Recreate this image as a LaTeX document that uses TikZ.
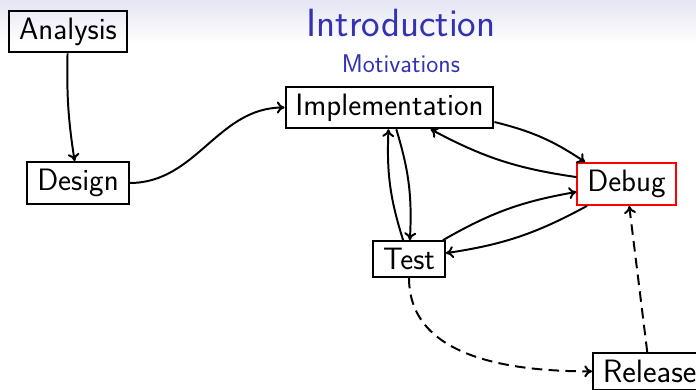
\documentclass[tikz,border=0pt]{standalone}
\usepackage{fontspec}
\usetikzlibrary{positioning, arrows.meta}
\definecolor{structure}{rgb}{0.2,0.2,0.7}
\definecolor{headshade}{RGB}{229,229,244}
\begin{document}
\begin{tikzpicture}[x=0.025cm, y=0.025cm,
        font=\sffamily\fontsize{22}{26}\selectfont,
        >={To[length=5.5pt, width=8.5pt]},
        stage/.style={draw, line width=1.4pt, inner xsep=7pt, inner ysep=5pt},
        flow/.style={->, line width=1.4pt},
        later/.style={flow, dash pattern=on 7.5pt off 4.5pt}]
    \useasboundingbox (0, 0) rectangle (696, 389);
    \clip (0, 0) rectangle (696, 389);
    % faded band behind the frame title
    \shade[top color=headshade, bottom color=white!96!headshade] (0, 347) rectangle (696, 389);
    \node[anchor=base, text=structure, font=\sffamily\fontsize{28}{32}\selectfont] (title) at (401, 352.3) {Introduction};
    \node[anchor=base, text=structure, font=\sffamily\fontsize{18.2}{22}\selectfont] (subtitle) at (401, 316.3) {Motivations};
    % the stages
    \node[stage] (analysis) at (68, 357.5) {Analysis};
    \node[stage] (design) at (78, 206) {Design};
    \node[stage] (impl) at (389.5, 281.5) {Implementation};
    \node[stage, draw=red] (debug) at (626.5, 205) {Debug};
    \node[stage] (test) at (409, 130) {Test};
    \node[stage, anchor=north west, font=\sffamily\fontsize{23}{27}\selectfont] (release) at (592, 37) {Release};
    % the flow between them
    \draw[flow] (analysis) to[bend right=5] (design);
    \draw[flow] (design.east) to[out=0, in=180] (impl.west);
    \draw[flow] (impl) to[bend left=10] (test);
    \draw[flow] (test) to[bend left=10] (impl);
    \draw[flow] (impl) to[bend left=10] (debug);
    \draw[flow] (debug) to[bend left=10] (impl);
    \draw[flow] (test) to[bend left=10] (debug);
    \draw[flow] (debug) to[bend left=10] (test);
    \draw[later] (test) to[out=-90, in=180] (release);
    \draw[later] (release) -- (debug);
\end{tikzpicture}
\end{document}
